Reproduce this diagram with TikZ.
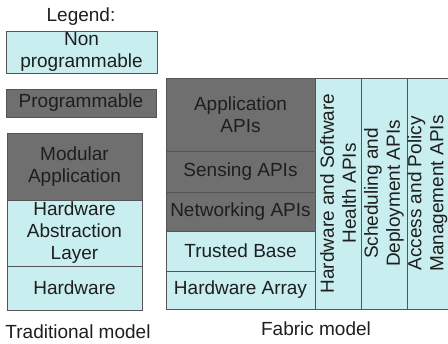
\documentclass[tikz,border=0pt]{standalone}
\usepackage{fontspec}
\setmainfont{Liberation Sans}
\usetikzlibrary{positioning}
\definecolor{fabcyan}{HTML}{C9EEF0}
\definecolor{fabdark}{HTML}{6F6F6F}
\definecolor{fabedge}{HTML}{555555}
\definecolor{fabtext}{HTML}{1E1E1E}

\begin{document}
\begin{tikzpicture}[x=1pt, y=-1pt, node distance=0pt, font=\fontsize{19}{22}\selectfont, text=fabtext,
  layer/.style={draw=fabedge, line width=0.8pt, inner sep=0pt, outer sep=0pt, align=center},
  nonprog/.style={layer, fill=fabcyan},
  prog/.style={layer, fill=fabdark},
  tradrow/.style={minimum width=135pt},
  fabrow/.style={minimum width=149pt},
  apicol/.style={nonprog, rotate=90, minimum width=231pt, minimum height=46pt}]
\useasboundingbox (0,0) rectangle (448,344);

% legend
\node (legend) at (81,17) {Legend:};
\node[nonprog, minimum width=151pt, minimum height=42pt] (keynon) at (81.5,52) {Non\\programmable};
\node[prog, minimum width=150pt, minimum height=28pt] (keyprog) at (81,103) {Programmable};

% traditional model
\node[prog, tradrow, minimum height=67pt, anchor=north west] (modapp) at (7,133) {Modular\\Application};
\node[nonprog, tradrow, minimum height=66pt, below=of modapp] (hal) {Hardware\\Abstraction\\Layer};
\node[nonprog, tradrow, minimum height=44pt, below=of hal] (hw) {Hardware};
\node (tradlbl) at (78,332) {Traditional model};

% fabric model
\node[prog, fabrow, minimum height=73pt, anchor=north west] (appapi) at (166,78) {Application\\APIs};
\node[prog, fabrow, minimum height=41pt, below=of appapi] (sensapi) {Sensing APIs};
\node[prog, fabrow, minimum height=39pt, below=of sensapi] (netapi) {Networking APIs};
\node[nonprog, fabrow, minimum height=40pt, below=of netapi] (trusted) {Trusted Base};
\node[nonprog, fabrow, minimum height=38pt, below=of trusted] (hwarray) {Hardware Array};
\node[apicol, anchor=north east] (health) at (appapi.north east) {Hardware and Software\\Health APIs};
\node[apicol, anchor=north east] (sched) at (health.south east) {Scheduling and\\Deployment APIs};
\node[apicol, minimum height=41pt, anchor=north east] (access) at (sched.south east) {Access and Policy\\Management APIs};
\node (fablbl) at (316,329) {Fabric model};
\end{tikzpicture}
\end{document}
